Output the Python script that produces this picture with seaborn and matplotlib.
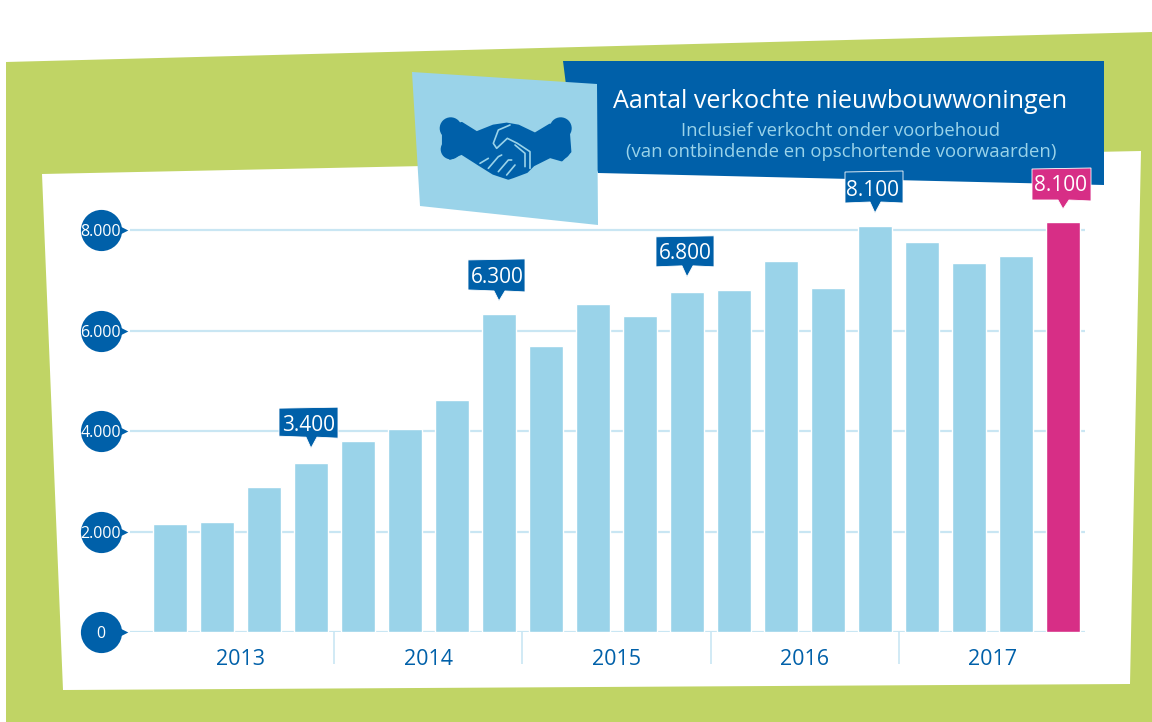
import matplotlib
matplotlib.use("Agg")
import matplotlib.pyplot as plt
from matplotlib.patches import Polygon, Circle
from matplotlib.transforms import IdentityTransform
import seaborn as sns
import pandas as pd

# quarterly sales
periods = [f"{y} Q{q}" for y in range(2013, 2018) for q in range(1, 5)]
sold = [2150, 2190, 2890, 3360, 3800, 4040, 4620, 6330, 5690, 6530,
        6290, 6770, 6810, 7380, 6850, 8080, 7760, 7340, 7480, 8160]
years = ["2013", "2014", "2015", "2016", "2017"]
year_pos = [1.5, 5.5, 9.5, 13.5, 17.5]
year_seps = [3.5, 7.5, 11.5, 15.5]
y_ticks = [0, 2000, 4000, 6000, 8000]
y_labels = ["0", "2.000", "4.000", "6.000", "8.000"]
callout_idx = [3, 7, 11, 15, 19]
callout_txt = ["3.400", "6.300", "6.800", "8.100", "8.100"]

GREEN = "#c0d465"
BLUE = "#0060a9"
LIGHT = "#9ad3e9"
GRID = "#c9e6f3"
PINK = "#d72e86"
FONT = ["Open Sans", "DejaVu Sans"]

sns.set_theme(style="white")
plt.rcParams["font.family"] = FONT

W, H = 1152, 722
fig = plt.figure(figsize=(W / 100, H / 100), dpi=100)

# backdrop and header in pixel coordinates of the picture
bg = fig.add_axes([0, 0, 1, 1], zorder=0)
bg.set_xlim(0, W)
bg.set_ylim(H, 0)
bg.axis("off")
bg.add_patch(Polygon([(6, 62), (1152, 32), (1152, 722), (6, 722)], fc=GREEN, ec="none"))
bg.add_patch(Polygon([(42, 174), (1141, 151), (1130, 684), (63, 690)], fc="white", ec="none"))
bg.add_patch(Polygon([(563, 61), (1104, 61), (1104, 185), (598, 173), (566, 85)], fc=BLUE, ec="none"))
bg.add_patch(Polygon([(412, 72), (597, 84), (598, 225), (420, 206)], fc=LIGHT, ec="none"))
bg.text(840.5, 101, "Aantal verkochte nieuwbouwwoningen", color="white", fontsize=18.1,
        ha="center", va="center")
bg.text(841, 131.5, "Inclusief verkocht onder voorbehoud", color=LIGHT, fontsize=13.3,
        ha="center", va="center")
bg.text(841, 152, "(van ontbindende en opschortende voorwaarden)", color=LIGHT, fontsize=13.3,
        ha="center", va="center")


def icon(points):
    # points measured on a 3x crop of the icon
    return [(430 + x / 3, 110 + y / 3) for x, y in points]


hands = [(40, 60), (95, 40), (140, 68), (190, 48), (230, 42), (265, 48), (315, 72), (360, 45),
         (415, 60), (420, 125), (395, 150), (360, 140), (310, 165), (290, 185), (250, 200),
         (235, 205), (190, 190), (150, 165), (95, 130), (60, 145), (40, 125)]
bg.add_patch(Polygon(icon(hands), fc=BLUE, ec=BLUE, lw=2, joinstyle="round"))
# rounded cuffs
for cx, cy, r in [(450.7, 128.3, 11), (450.7, 149.3, 10), (560.7, 128.3, 11), (560.7, 149.3, 10)]:
    bg.add_patch(Circle((cx, cy), r, fc=BLUE, ec="none"))
for pts in ([(240, 45), (205, 60), (190, 100), (200, 115), (232, 85), (262, 100), (300, 125), (300, 175)],
            [(255, 105), (285, 130), (285, 170)],
            [(150, 160), (175, 145)],
            [(175, 175), (205, 140), (215, 135)],
            [(205, 185), (235, 150), (245, 150)],
            [(230, 195), (255, 165)]):
    bg.plot(*zip(*icon(pts)), color=LIGHT, lw=1.2)

# chart
ax = fig.add_axes([130 / W, 1 - 632 / H, 955 / W, 417 / H], zorder=1)
ax.patch.set_alpha(0)
df = pd.DataFrame({"period": periods, "sold": sold,
                   "kind": ["last" if i == 19 else "rest" for i in range(20)]})
sns.barplot(data=df, x="period", y="sold", hue="kind", palette={"rest": LIGHT, "last": PINK},
            dodge=False, width=0.74, legend=False, saturation=1, ax=ax, zorder=3)
ax.set_xlim(-0.851, 19.468)
ax.set_ylim(0, 8299)
ax.set_xlabel("")
ax.set_ylabel("")
sns.despine(ax=ax, left=True, bottom=True, top=True, right=True)
for t in y_ticks:
    ax.axhline(t, color=GRID, lw=1.6, zorder=1)

ax.set_xticks(year_pos, years)
ax.set_xticks(year_seps, minor=True)
ax.tick_params(axis="x", which="major", length=0, pad=12, labelsize=15.5, labelcolor=BLUE)
ax.tick_params(axis="x", which="minor", length=23, width=1.2, color=GRID, bottom=True)
ax.set_yticks(y_ticks, y_labels)
ax.tick_params(axis="y", length=0, pad=21, labelsize=11.5, labelcolor="white")
for lab in ax.get_yticklabels():
    lab.set_ha("center")
ax.yaxis.set_zorder(6)

# y tick bubbles
tr = ax.get_yaxis_transform()
for t in y_ticks:
    ax.scatter([-29 / 955], [t], s=880, color=BLUE, transform=tr, clip_on=False, linewidths=0, zorder=4)
    ax.scatter([-12 / 955], [t], s=200, marker=">", color=BLUE, transform=tr, clip_on=False, linewidths=0, zorder=4)

# value labels, placed relative to their bars
box_shape = {3: (-32, 27, -40, -10, -12), 7: (-31, 26, -41, -9, -11), 11: (-31, 27, -40, -10, -10),
             15: (-30, 28, -41, -10, -10), 19: (-31, 28, -40, -8, -9)}
tip_gap = {3: 15, 7: 13, 11: 15, 15: 13, 19: 13}
for i, txt in zip(callout_idx, callout_txt):
    x0, y0 = ax.transData.transform((i, sold[i]))
    y0 += tip_gap[i]
    l, r, top, bot, botl = box_shape[i]
    col = PINK if i == 19 else BLUE
    verts = [(x0 + l, y0 - top), (x0 + r, y0 - top + 1), (x0 + r, y0 - bot), (x0 + 6, y0 - bot + 1),
             (x0, y0), (x0 - 5, y0 - bot + 1), (x0 + l, y0 - botl)]
    ax.add_patch(Polygon(verts, closed=True, fc=col, ec="white", lw=0.6, transform=IdentityTransform(),
                         clip_on=False, zorder=7))
    ax.annotate(txt, xy=(i, sold[i]), xytext=(-1.5, (tip_gap[i] + 23) * 0.72), textcoords="offset points",
                ha="center", va="center", color="white", fontsize=15, zorder=8, annotation_clip=False)

fig.savefig("out.png", dpi=100)
